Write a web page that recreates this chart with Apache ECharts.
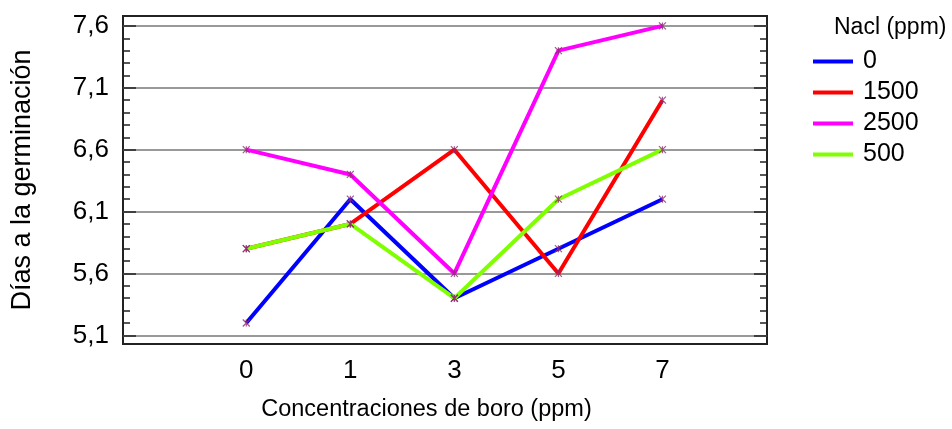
<!DOCTYPE html>
<html>
<head>
<meta charset="utf-8">
<script src="https://cdn.jsdelivr.net/npm/echarts@6/dist/echarts.min.js"></script>
<style>html,body{margin:0;padding:0;background:#fff}#c{width:952px;height:429px}</style>
</head>
<body>
<div id="c"></div>
<script>
var categories = ['0', '1', '3', '5', '7'];
var seriesNames = ['0', '1500', '2500', '500'];
var values0 = [5.2, 6.2, 5.4, 5.8, 6.2];
var values1500 = [5.8, 6.0, 6.6, 5.6, 7.0];
var values2500 = [6.6, 6.4, 5.6, 7.4, 7.6];
var values500 = [5.8, 6.0, 5.4, 6.2, 6.6];
var yTickLabels = [5.1, 5.6, 6.1, 6.6, 7.1, 7.6];
var legendTitle = 'Nacl (ppm)';
var xTitle = 'Concentraciones de boro (ppm)';
var yTitle = 'Días a la germinación';

var colors = ['#0000ff', '#ff0000', '#ff00ff', '#80ff00'];
var allValues = [values0, values1500, values2500, values500];
var minorTicks = [];
for (var k = 51; k <= 76; k++) minorTicks.push(k / 10);

var FONT = 'Liberation Sans, Arial, sans-serif';
var YMIN = 5.03, YMAX = 7.68;

function yAx(pos, custom, len, labels, split, name) {
  return {
    type: 'value', position: pos, min: YMIN, max: YMAX,
    name: name || '', nameLocation: 'middle', nameGap: 87,
    nameTextStyle: { fontFamily: FONT, fontSize: 27, color: '#000' },
    axisLine: { show: false, onZero: false },
    axisTick: { show: true, inside: true, length: len, customValues: custom,
      lineStyle: { color: '#222', width: 1.5 } },
    axisLabel: labels ? { show: true, customValues: custom, margin: 14,
      fontFamily: FONT, fontSize: 26, color: '#000',
      formatter: function (v) { return String(v).replace('.', ','); } } : { show: false },
    splitLine: { show: split, lineStyle: { color: '#999', width: 2 } }
  };
}

var series = [];
allValues.forEach(function (vals, i) {
  series.push({
    name: seriesNames[i], type: 'line', yAxisIndex: 0,
    data: vals.map(function (v, j) { return [j, v]; }),
    symbol: 'none', lineStyle: { color: colors[i], width: 4 },
    itemStyle: { color: colors[i] }, z: 2 + i, silent: true
  });
});
allValues.forEach(function (vals, i) {
  series.push({
    name: 'mk' + i, type: 'scatter', yAxisIndex: 0,
    data: vals.map(function (v, j) { return [j, v]; }),
    symbol: 'path://M0 0L10 10M10 0L0 10M5 0L5 10', symbolSize: 7,
    itemStyle: { color: 'rgba(0,0,0,0)', borderColor: '#8e2a72', borderWidth: 1.2 },
    z: 10, silent: true
  });
});

var chart = echarts.init(document.getElementById('c'), null, { renderer: 'canvas' });
chart.setOption({
  animation: false,
  backgroundColor: '#fff',
  title: { text: legendTitle, left: 829, top: 11,
    textStyle: { fontFamily: FONT, fontSize: 23, fontWeight: 'normal', color: '#000' } },
  legend: {
    orient: 'vertical', left: 808, top: 44, itemWidth: 40, itemHeight: 4, itemGap: 6,
    icon: 'rect',
    data: seriesNames.map(function (n, i) { return { name: n, itemStyle: { color: colors[i] } }; }),
    textStyle: { fontFamily: FONT, fontSize: 25, color: '#000', lineHeight: 25, padding: [0, 0, 0, 5] }
  },
  grid: { left: 123, right: 185, top: 16, bottom: 85, show: true, borderColor: '#222', borderWidth: 2, backgroundColor: '#fff' },
  xAxis: {
    type: 'value', min: -1.185, max: 5.005,
    name: xTitle, nameLocation: 'middle', nameGap: 54,
    nameTextStyle: { fontFamily: FONT, fontSize: 23.5, color: '#000', padding: [0, 37, 0, 0] },
    axisLine: { show: false, onZero: false }, axisTick: { show: false },
    axisLabel: { customValues: [0, 1, 2, 3, 4], margin: 14, fontFamily: FONT, fontSize: 26, color: '#000',
      formatter: function (v) { return categories[Math.round(v)]; } },
    splitLine: { show: false }
  },
  yAxis: [
    yAx('left', yTickLabels, 13, true, true, yTitle),
    yAx('left', minorTicks, 7, false, false),
    yAx('right', yTickLabels, 13, false, false),
    yAx('right', minorTicks, 7, false, false)
  ],
  series: series
});
</script>
</body>
</html>
